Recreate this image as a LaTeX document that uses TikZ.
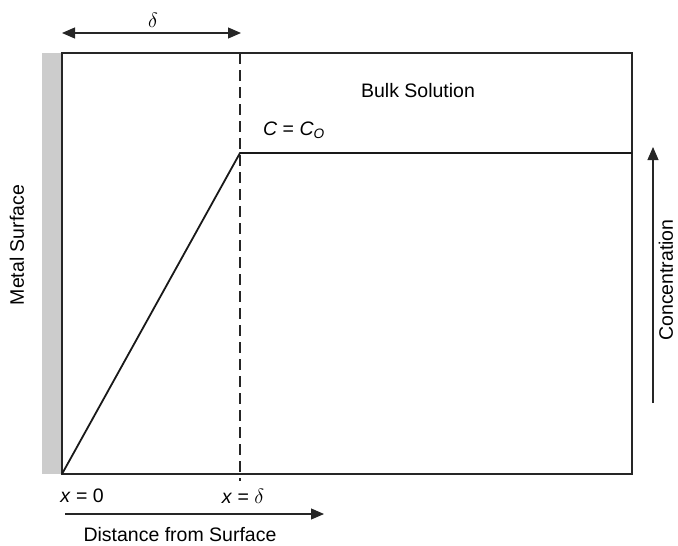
\documentclass[tikz,border=0pt]{standalone}
\usepackage{fontspec}
\setmainfont{Liberation Sans}
\usetikzlibrary{arrows.meta}
\begin{document}
\begin{tikzpicture}[x=1pt,y=-1pt,
  lbl/.style={font=\fontsize{19.5}{22}\selectfont, inner sep=0pt},
  arr/.style={line width=1.1pt, draw=black!85, -{Triangle[length=13pt,width=11pt]}},
  dbl/.style={line width=1.1pt, draw=black!85, {Triangle[length=13pt,width=11pt]}-{Triangle[length=13pt,width=11pt]}},
  frame/.style={line width=1.3pt, draw=black!85},
  curve/.style={line width=1.8pt, draw=black!90}]
\useasboundingbox (0,0) rectangle (678,546);
% metal surface bar
\fill[black!20] (42,53) rectangle (62,474);
% frame
\coordinate (tl) at (62,53);
\coordinate (tr) at (632,53);
\coordinate (bl) at (62,474);
\coordinate (br) at (632,474);
\draw[frame] (tl) -- (tr) -- (br) -- (bl) -- cycle;
% dashed boundary
\coordinate (dtop) at (240,53);
\coordinate (dbot) at (240,481);
\draw[line width=1.1pt, draw=black!85, dash pattern=on 11pt off 6pt] (dtop) -- (dbot);
% concentration profile
\coordinate (kink) at (240,153);
\coordinate (cend) at (632,153);
\draw[curve] (bl) -- (kink) -- (cend);
% delta arrow
\coordinate (da) at (62,33);
\coordinate (db) at (241,33);
\draw[dbl] (da) -- (db);
\node[lbl] (delta) at (153,20) {\fontsize{22}{24}\selectfont$\delta$};
% labels
\node[lbl] (bulk) at (418,91) {Bulk Solution};
\node[lbl] (cco) at (294,130) {\textit{C} = \textit{C}\textsubscript{\textit{O}}};
\node[lbl, rotate=90] (metal) at (17,245) {Metal Surface};
\node[lbl, rotate=90] (conc) at (666,280) {Concentration};
\node[lbl] (x0) at (82,496) {\textit{x} = 0};
\node[lbl] (xd) at (243,496) {\textit{x} = \fontsize{22}{24}\selectfont$\delta$};
\node[lbl] (dist) at (180,535) {Distance from Surface};
% concentration arrow
\coordinate (ca) at (653,403);
\coordinate (cb) at (653,147);
\draw[arr] (ca) -- (cb);
% distance arrow
\coordinate (xa) at (65,514);
\coordinate (xb) at (324,514);
\draw[arr] (xa) -- (xb);
\end{tikzpicture}
\end{document}
